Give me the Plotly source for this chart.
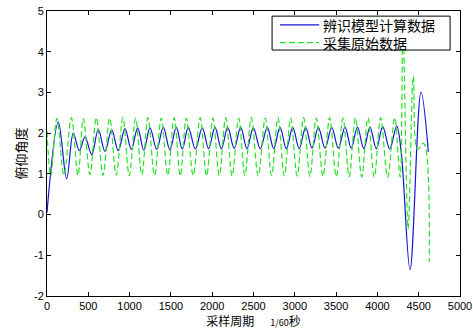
import plotly.graph_objects as go

# Blue: identified-model output, extreme points
blue_x = [0, 137, 238, 318, 391, 460, 541, 621, 702, 783, 863, 944, 1021, 1098, 1172,
          1247, 1328, 1408, 1487, 1565, 1638, 1711, 1796, 1880, 1957, 2034, 2111, 2188,
          2266, 2345, 2421, 2498, 2582, 2667, 2744, 2821, 2898, 2975, 3053, 3132, 3208,
          3285, 3366, 3447, 3527, 3608, 3683, 3759, 3835, 3910, 3987, 4064, 4149, 4234,
          4290, 4395, 4528, 4617]
blue_y = [0.05, 2.27, 0.88, 2.00, 1.57, 1.91, 1.47, 2.09, 1.55, 2.08, 1.57, 2.11, 1.60, 2.13, 1.58,
          2.13, 1.60, 2.14, 1.59, 2.14, 1.61, 2.14, 1.61, 2.13, 1.62, 2.14, 1.62, 2.14,
          1.62, 2.14, 1.62, 2.13, 1.62, 2.14, 1.62, 2.14, 1.62, 2.14, 1.62, 2.14, 1.63,
          2.14, 1.63, 2.14, 1.63, 2.15, 1.63, 2.15, 1.62, 2.15, 1.62, 2.16, 1.61, 2.17,
          1.50, -1.35, 3.01, 1.54]

green_x = [0, 45, 120, 205, 295, 375, 440, 520, 597, 678, 758, 838, 919, 996, 1073, 1148,
           1222, 1302, 1383, 1462, 1540, 1614, 1686, 1770, 1855, 1932, 2009, 2086, 2163,
           2241, 2320, 2396, 2473, 2557, 2642, 2719, 2796, 2873, 2950, 3028, 3107, 3183,
           3260, 3341, 3422, 3502, 3583, 3658, 3734, 3810, 3885, 3962, 4039, 4124, 4209,
           4275, 4310, 4372, 4435, 4485, 4560, 4628]
green_y = [2.05, 0.95, 2.36, 0.97, 2.38, 0.96, 2.36, 0.98, 2.38, 0.96, 2.37, 0.97, 2.38, 0.95, 2.37, 0.97,
           2.38, 0.96, 2.37, 0.96, 2.38, 0.95, 2.37, 0.96, 2.38, 0.95, 2.37, 0.96, 2.38,
           0.95, 2.37, 0.96, 2.38, 0.95, 2.37, 0.96, 2.38, 0.95, 2.37, 0.95, 2.38, 0.94,
           2.37, 0.94, 2.38, 0.93, 2.37, 0.93, 2.38, 0.92, 2.38, 0.92, 2.38, 0.91, 2.38,
           0.92, 4.55, -0.35, 3.40, 1.60, 1.75, -1.15]

series_names = ["辨识模型计算数据", "采集原始数据"]
x_ticks = [0, 500, 1000, 1500, 2000, 2500, 3000, 3500, 4000, 4500, 5000]
y_ticks = [-2, -1, 0, 1, 2, 3, 4, 5]

FONT = "Liberation Sans, Arial, Noto Sans CJK SC, sans-serif"
CJK = "Noto Sans CJK SC, Liberation Sans, sans-serif"
BLUE = "rgb(20,20,210)"
GREEN = "rgb(40,225,40)"
DASH = "6px,3px"
NB = "\u00a0"

fig = go.Figure()
fig.add_trace(go.Scatter(x=blue_x, y=blue_y, mode="lines", name=series_names[0],
                         line=dict(color=BLUE, width=1.2, shape="spline", smoothing=1.0)))
fig.add_trace(go.Scatter(x=green_x, y=green_y, mode="lines", name=series_names[1],
                         line=dict(color=GREEN, width=1.2, dash=DASH,
                                   shape="spline", smoothing=1.0)))

axis_common = dict(showline=True, linecolor="black", linewidth=1, mirror="ticks",
                   ticks="inside", ticklen=4, tickcolor="black", showgrid=False,
                   zeroline=False, automargin=False, ticklabeloverflow="allow",
                   tickfont=dict(family=FONT, size=11, color="black"))

fig.update_xaxes(range=[0, 5000], tickvals=x_ticks, ticktext=[str(v) for v in x_ticks],
                 title=dict(text="采样周期" + NB * 6 + "<span style='font-size:9px'>1/60</span>秒" + NB * 2,
                            font=dict(family=CJK, size=12, color="black"), standoff=0),
                 **axis_common)
fig.update_yaxes(range=[-2, 5], tickvals=y_ticks, ticktext=[str(v) for v in y_ticks],
                 title=dict(text="俯仰角度", font=dict(family=CJK, size=13, color="black"), standoff=4),
                 **axis_common)

# Compact MATLAB-style legend box drawn in paper coordinates
shapes = [
    dict(type="rect", xref="paper", yref="paper", x0=0.545, x1=0.976, y0=0.863, y1=0.982,
         line=dict(color="black", width=1), fillcolor="white", layer="above"),
    dict(type="line", xref="paper", yref="paper", x0=0.564, x1=0.659, y0=0.951, y1=0.951,
         line=dict(color=BLUE, width=1.2), layer="above"),
    dict(type="line", xref="paper", yref="paper", x0=0.564, x1=0.659, y0=0.889, y1=0.889,
         line=dict(color=GREEN, width=1.2, dash=DASH), layer="above"),
]
annotations = [
    dict(xref="paper", yref="paper", x=0.664, y=0.920,
         text=series_names[0] + "<br>" + series_names[1], showarrow=False, align="left",
         xanchor="left", yanchor="middle", font=dict(family=CJK, size=14, color="black")),
]

fig.update_layout(
    width=473, height=329,
    margin=dict(l=47, r=13, t=11, b=33, autoexpand=False),
    paper_bgcolor="white", plot_bgcolor="white",
    showlegend=False,
    shapes=shapes, annotations=annotations,
)

fig.write_html("out.html", config={"displayModeBar": False},
               post_script="document.body.style.margin='0px';document.body.style.overflow='hidden';")
